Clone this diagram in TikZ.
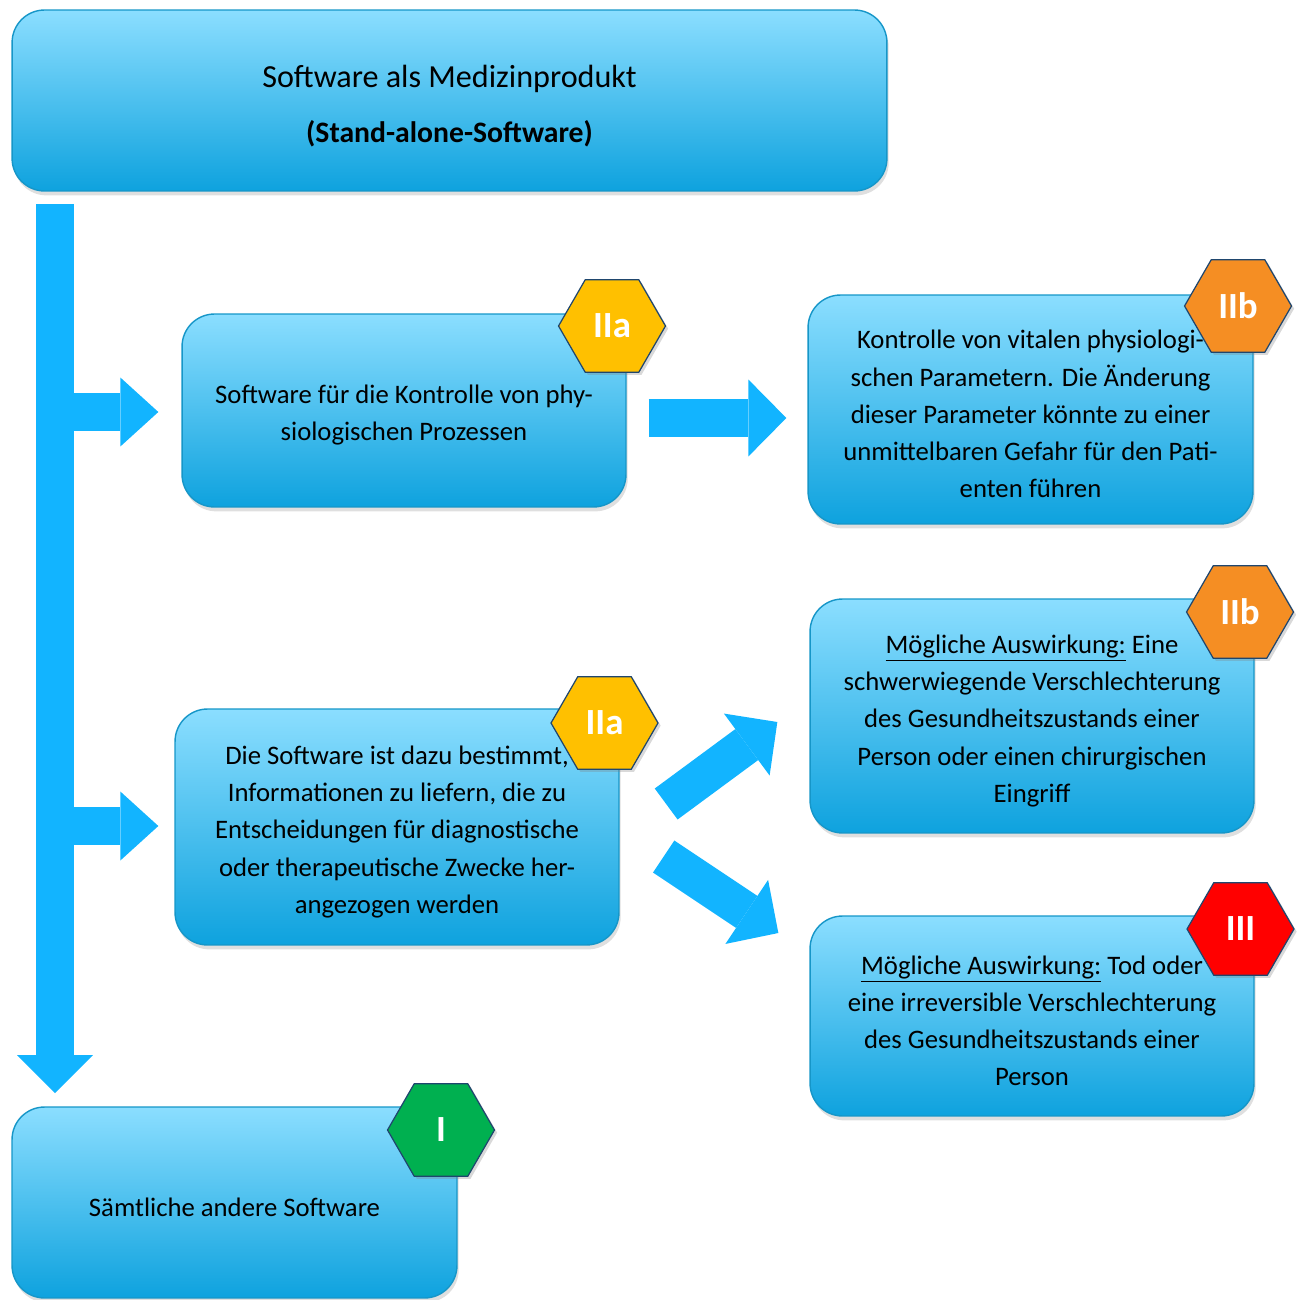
\documentclass[tikz,border=0pt]{standalone}
\usepackage{fontspec}
\setmainfont{Carlito}
\usetikzlibrary{shapes.geometric,arrows.meta,shadows,calc}

\definecolor{boxtop}{RGB}{139,222,255}
\definecolor{boxbottom}{RGB}{14,162,222}
\definecolor{boxline}{RGB}{22,150,200}
\definecolor{flowblue}{RGB}{18,180,255}
\definecolor{hexline}{RGB}{31,70,110}
\definecolor{classI}{RGB}{0,176,80}
\definecolor{classIIa}{RGB}{255,192,0}
\definecolor{classIIb}{RGB}{245,142,35}
\definecolor{classIII}{RGB}{255,0,0}

% extra room above the first line of a box
\newcommand\boxstrut{\rule{0pt}{16pt}}

\tikzset{
  mdbox/.style={draw=boxline, line width=0.8pt, rounded corners=0.65cm,
    top color=boxtop, bottom color=boxbottom, align=center,
    font=\fontsize{15.2}{21.2}\selectfont,
    drop shadow={shadow xshift=1pt, shadow yshift=-2.5pt, opacity=0.25}},
  classhex/.style={regular polygon, regular polygon sides=6, minimum size=2.14cm,
    inner sep=0pt, draw=hexline, line width=0.7pt, text=white,
    font=\fontsize{21}{21}\selectfont\bfseries,
    drop shadow={shadow xshift=1.5pt, shadow yshift=-1.5pt, opacity=0.3}},
  flow/.style={flowblue, line width=0.77cm,
    -{Triangle[length=0.76cm, width=#1, line width=0pt]}},
  flow/.default=1.54cm
}

\begin{document}
\begin{tikzpicture}[x=0.02cm, y=-0.02cm]
\useasboundingbox (0,0) rectangle (1300,1300);

% boxes
\node[mdbox, minimum width=17.5cm, minimum height=3.62cm, font=\fontsize{18.3}{31}\selectfont] (samd) at (449.5,100.5)
  {\rule{0pt}{19pt}Software als Medizinprodukt\\{\fontsize{16.9}{31}\selectfont\bfseries (Stand-alone-Software)}};
\node[mdbox, minimum width=8.88cm, minimum height=3.86cm] (ctrl) at (404,410.5)
  {\boxstrut Software für die Kontrolle von phy-\\siologischen Prozessen};
\node[mdbox, minimum width=8.9cm, minimum height=4.58cm] (vital) at (1030.5,409.5)
  {\boxstrut Kontrolle von vitalen physiologi-\\schen Parametern. Die Änderung\\dieser Parameter könnte zu einer\\unmittelbaren Gefahr für den Pati-\\enten führen};
\node[mdbox, minimum width=8.88cm, minimum height=4.72cm] (diag) at (397,827)
  {\boxstrut Die Software ist dazu bestimmt,\\Informationen zu liefern, die zu\\Entscheidungen für diagnostische\\oder therapeutische Zwecke her-\\angezogen werden};
\node[mdbox, minimum width=8.88cm, minimum height=4.68cm] (severe) at (1032,716)
  {\boxstrut\underline{Mögliche Auswirkung:} Eine\\schwerwiegende Verschlechterung\\des Gesundheitszustands einer\\Person oder einen chirurgischen\\Eingriff};
\node[mdbox, minimum width=8.88cm, minimum height=4cm] (death) at (1032,1016)
  {\boxstrut\underline{Mögliche Auswirkung:} Tod oder\\eine irreversible Verschlechterung\\des Gesundheitszustands einer\\Person};
\node[mdbox, minimum width=8.9cm, minimum height=3.82cm] (other) at (234.5,1202.5)
  {\boxstrut Sämtliche andere Software};

% classes
\node[classhex, fill=classIIa] (ctrl class) at (612,326) {IIa};
\node[classhex, fill=classIIb] (vital class) at (1238,306) {IIb};
\node[classhex, fill=classIIa] (diag class) at (604.5,723) {IIa};
\node[classhex, fill=classIIb] (severe class) at (1240,612) {IIb};
\node[classhex, fill=classIII] (death class) at (1240.5,929) {III};
\node[classhex, fill=classI] (other class) at (441,1130) {I};

% arrows
\coordinate (trunk top) at (55,204);
\coordinate (trunk end) at (55,1093);
\coordinate (fork ctrl) at (55,412);
\coordinate (fork diag) at (55,826);
\draw[flow=1.52cm] (trunk top) -- (trunk end);
\draw[flow=1.38cm, shorten >=0.46cm] (fork ctrl) -- (fork ctrl -| ctrl.west);
\draw[flow=1.38cm, shorten >=0.32cm] (fork diag) -- (fork diag -| diag.west);
\draw[flow] ($(ctrl.east)+(22,7.5)$) -- ($(vital.west)+(-21,8.5)$);
\draw[flow] ($(diag.east)+(46.5,-23)$) -- ($(severe.west)+(-32,6)$);
\draw[flow] ($(diag.east)+(44,29.5)$) -- ($(death.west)+(-31,-83)$);

\end{tikzpicture}
\end{document}
